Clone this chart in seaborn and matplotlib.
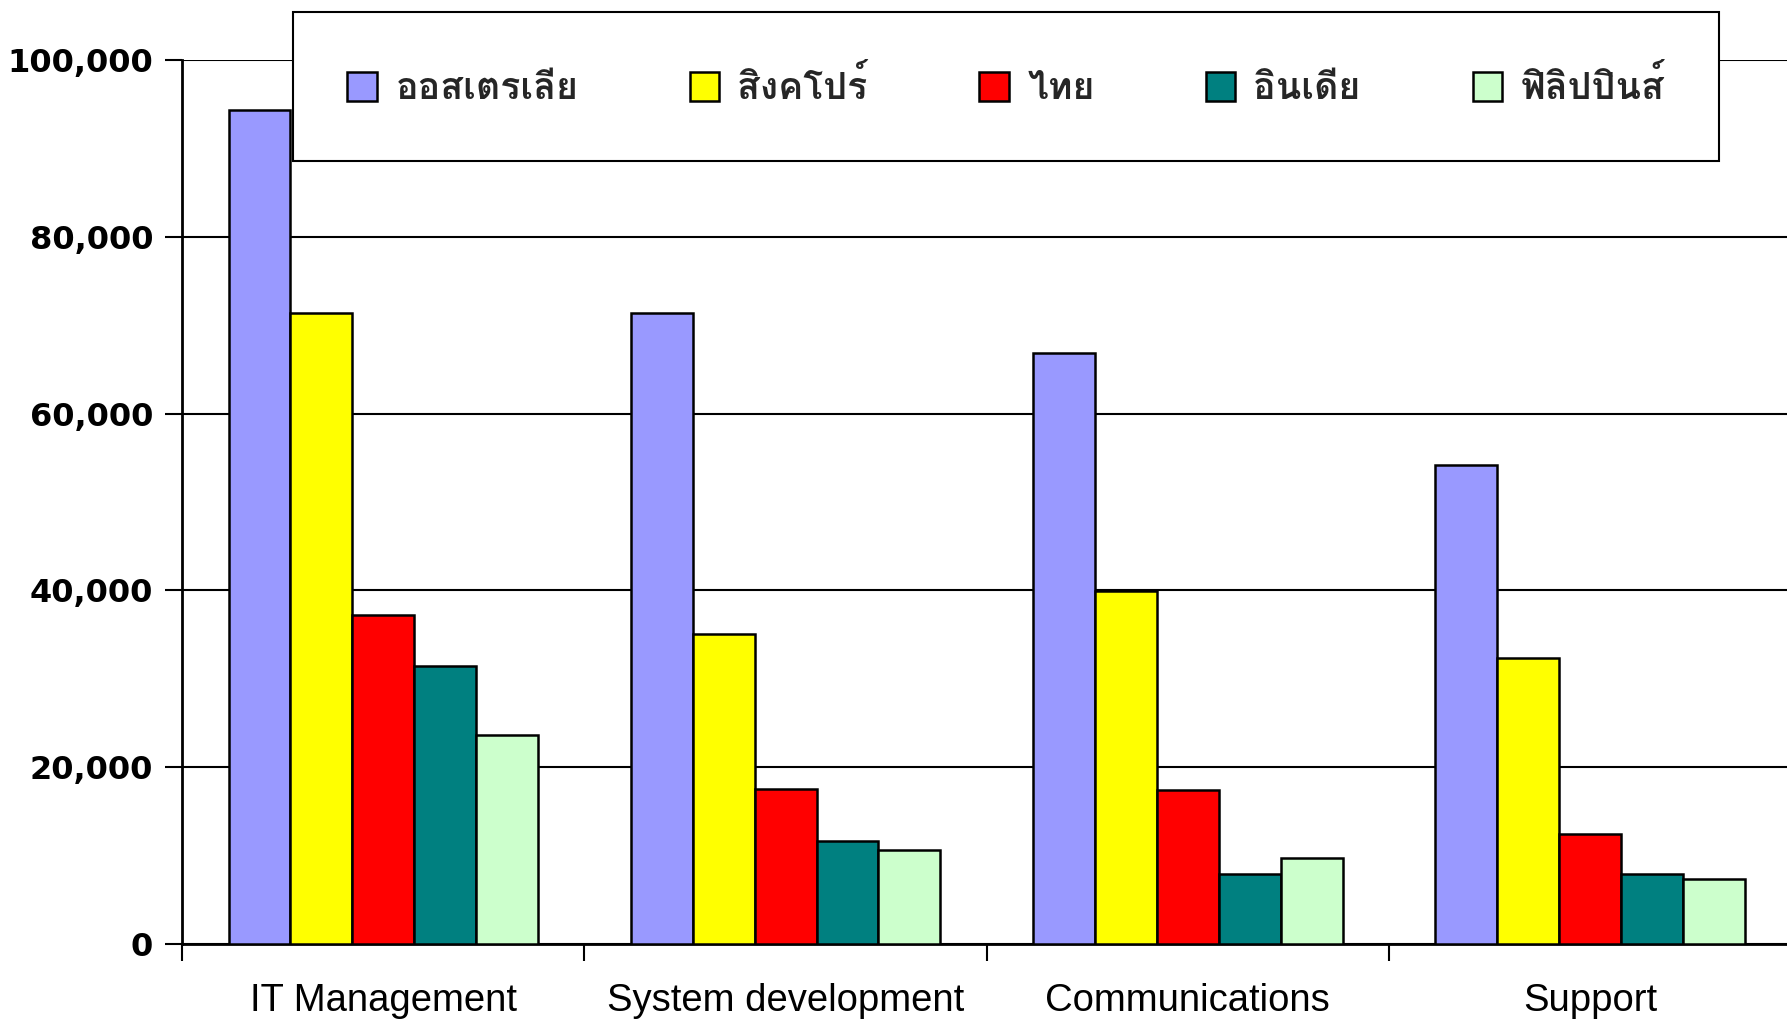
import pandas as pd
import seaborn as sns
import matplotlib
matplotlib.use("Agg")
import matplotlib.pyplot as plt
from matplotlib import font_manager
from matplotlib.ft2font import FT2Font
from matplotlib.ticker import FixedLocator

# ---------------------------------------------------------------------
# Data
# ---------------------------------------------------------------------
categories = ["IT Management", "System development", "Communications", "Support"]
countries = ["ออสเตรเลีย", "สิงคโปร์", "ไทย", "อินเดีย", "ฟิลิปปินส์"]
australia = [94300, 71400, 66800, 54200]
singapore = [71400, 35100, 39900, 32300]
thailand = [37200, 17500, 17400, 12400]
india = [31400, 11600, 7900, 7900]
philippines = [23600, 10600, 9700, 7400]
colors = ["#9999FF", "#FFFF00", "#FF0000", "#008080", "#CCFFCC"]
yticks = [0, 20000, 40000, 60000, 80000, 100000]
ytick_labels = ["0", "20,000", "40,000", "60,000", "80,000", "100,000"]

rows = []
for name, vals in zip(countries, [australia, singapore, thailand, india, philippines]):
    for cat, v in zip(categories, vals):
        rows.append({"category": cat, "country": name, "value": v})
df = pd.DataFrame(rows)


# pick an installed font that has Thai glyphs, if any
def find_thai_font():
    for f in font_manager.fontManager.ttflist:
        try:
            if 0x0E2D in FT2Font(f.fname).get_charmap():
                return f.name
        except Exception:
            pass
    return None


thai_font = find_thai_font()

sns.set_theme(style="white")
plt.rcParams["font.family"] = ["DejaVu Sans"]

fig = plt.figure(figsize=(17.87, 10.22), dpi=100)
ax = fig.add_axes([0.102, 0.0763, 0.898, 0.865])

sns.barplot(data=df, x="category", y="value", hue="country",
            palette=colors, width=0.77, edgecolor="black", linewidth=1.8,
            saturation=1, ax=ax, zorder=3)

ax.set_ylim(0, 100000)
ax.set_xlim(-0.5, 3.49)
ax.set_yticks(yticks)
ax.set_yticklabels(ytick_labels, fontsize=23, fontweight="bold", color="black")
ax.yaxis.grid(True, color="black", linewidth=1.5)
ax.set_axisbelow(True)
ax.tick_params(axis="y", direction="out", length=12, width=1.5, color="black", pad=9, left=True)

ax.set_xticks(range(len(categories)))
ax.set_xticklabels(categories, fontsize=27.5, color="black",
                   family=["Liberation Sans", "DejaVu Sans"])
ax.tick_params(axis="x", which="major", length=0, pad=28)
ax.xaxis.set_minor_locator(FixedLocator([-0.5, 0.5, 1.5, 2.5]))
ax.tick_params(axis="x", which="minor", direction="out", length=12, width=1.5, color="black", bottom=True)

ax.set_xlabel("")
ax.set_ylabel("")
for side in ["top", "right"]:
    ax.spines[side].set_visible(False)
for side in ["left", "bottom"]:
    ax.spines[side].set_color("black")
    ax.spines[side].set_linewidth(2)

ax.legend_.remove()
handles, labels = ax.get_legend_handles_labels()
leg_family = [thai_font, "DejaVu Sans"] if thai_font else ["DejaVu Sans"]
leg = fig.legend(handles, labels, ncol=5, mode="expand",
                 bbox_to_anchor=(0.175, 1 - 162 / 1022, 0.785, 151 / 1022),
                 loc="center", frameon=True, fancybox=False,
                 edgecolor="black", framealpha=1,
                 prop={"family": leg_family, "weight": "bold", "size": 27},
                 handlelength=0.78, handleheight=0.78, handletextpad=0.5,
                 borderpad=1.45, borderaxespad=0)
leg.get_frame().set_linewidth(1.5)
# keep the frame on the reference box while the entries sit slightly to the right
leg.set_bbox_to_anchor((0.164, 1 - 162 / 1022, 0.798, 151 / 1022), transform=fig.transFigure)

fig.savefig("out.png", dpi=100)
